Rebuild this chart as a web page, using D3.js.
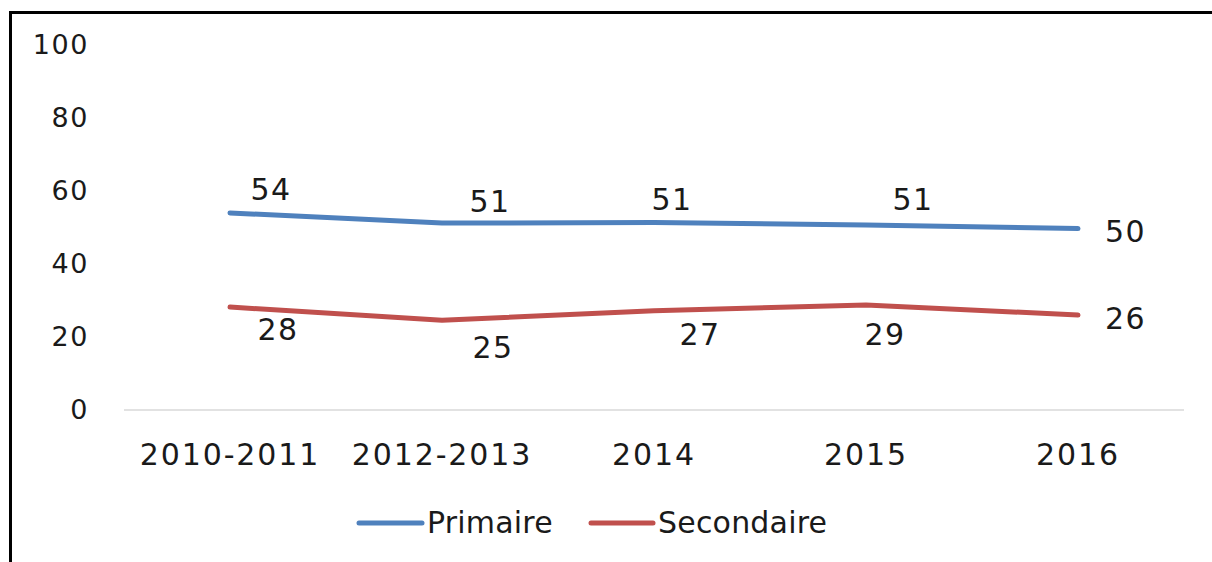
<!DOCTYPE html>
<html>
<head>
<meta charset="utf-8">
<script src="https://cdn.jsdelivr.net/npm/d3@7"></script>
<style>
  html, body { margin: 0; padding: 0; background: #fff; }
  svg { display: block; }
  text { font-family: "DejaVu Sans", sans-serif; fill: #1a1a1a; }
</style>
</head>
<body>
<svg id="chart" width="1212" height="562"></svg>
<script>
// ---- data ----
const categories = ["2010-2011", "2012-2013", "2014", "2015", "2016"];
const primaire = [54.0, 51.2, 51.4, 50.7, 49.7];
const secondaire = [28.2, 24.6, 27.2, 28.8, 26.0];
const seriesNames = ["Primaire", "Secondaire"];
const yTicks = [0, 20, 40, 60, 80, 100];

// ---- layout ----
const W = 1212, H = 562;
const plot = { left: 124, right: 1184, top: 45, bottom: 410 };
const colors = ["#4F81BD", "#C0504D"];
const fmt = d3.format(".0f");

const svg = d3.select("#chart");

// frame (cropped on right/bottom)
svg.append("rect")
  .attr("x", 10.5).attr("y", 12.5)
  .attr("width", W + 50).attr("height", H + 50)
  .attr("fill", "none").attr("stroke", "#000").attr("stroke-width", 3);

const x = d3.scaleBand().domain(categories).range([plot.left, plot.right]).padding(0);
const cx = d => x(d) + x.bandwidth() / 2;
const y = d3.scaleLinear().domain([0, 100]).range([plot.bottom, plot.top]);

// baseline
svg.append("line")
  .attr("x1", plot.left).attr("x2", plot.right)
  .attr("y1", y(0)).attr("y2", y(0))
  .attr("stroke", "#d9d9d9").attr("stroke-width", 1.5);

// y axis
const gy = svg.append("g")
  .attr("transform", `translate(${plot.left},0)`)
  .call(d3.axisLeft(y).tickValues(yTicks).tickSize(0).tickPadding(35));
gy.select(".domain").remove();
gy.selectAll("text")
  .attr("font-family", "DejaVu Sans").attr("font-size", 27)
  .attr("letter-spacing", 1.6).attr("fill", "#1a1a1a");

// x axis
const gx = svg.append("g")
  .attr("transform", `translate(0,${plot.bottom})`)
  .call(d3.axisBottom(x).tickSize(0).tickPadding(34));
gx.select(".domain").remove();
gx.selectAll("text")
  .attr("font-family", "DejaVu Sans").attr("font-size", 30)
  .attr("letter-spacing", 1.9).attr("fill", "#1a1a1a");

// lines
const series = [primaire, secondaire];
const line = d3.line().x((d, i) => cx(categories[i])).y(d => y(d));
series.forEach((s, k) => {
  svg.append("path")
    .datum(s)
    .attr("d", line)
    .attr("fill", "none")
    .attr("stroke", colors[k])
    .attr("stroke-width", 5)
    .attr("stroke-linecap", "round")
    .attr("stroke-linejoin", "round");
});

// data label offsets (layout only)
const labelOffsets = [
  [[41, -24], [48, -22], [18, -23], [47, -26], [27, 2]],
  [[48, 22], [51, 27], [46, 23], [19, 29], [27, 2.5]]
];
series.forEach((s, k) => {
  svg.append("g").selectAll("text")
    .data(s)
    .join("text")
    .attr("x", (d, i) => cx(categories[i]) + labelOffsets[k][i][0])
    .attr("y", (d, i) => y(d) + labelOffsets[k][i][1] + 11)
    .attr("text-anchor", (d, i) => i === s.length - 1 ? "start" : "middle")
    .attr("font-size", 30)
    .attr("letter-spacing", 1.5)
    .text(d => fmt(d));
});

// legend
const legendItems = [
  { name: seriesNames[0], color: colors[0], x1: 359, x2: 422 },
  { name: seriesNames[1], color: colors[1], x1: 591, x2: 653 }
];
const lg = svg.append("g");
legendItems.forEach(it => {
  lg.append("line")
    .attr("x1", it.x1).attr("x2", it.x2)
    .attr("y1", 523).attr("y2", 523)
    .attr("stroke", it.color).attr("stroke-width", 5)
    .attr("stroke-linecap", "round");
  lg.append("text")
    .attr("x", it.x2 + 5).attr("y", 533)
    .attr("font-size", 30)
    .attr("letter-spacing", 0.2)
    .text(it.name);
});
</script>
</body>
</html>
